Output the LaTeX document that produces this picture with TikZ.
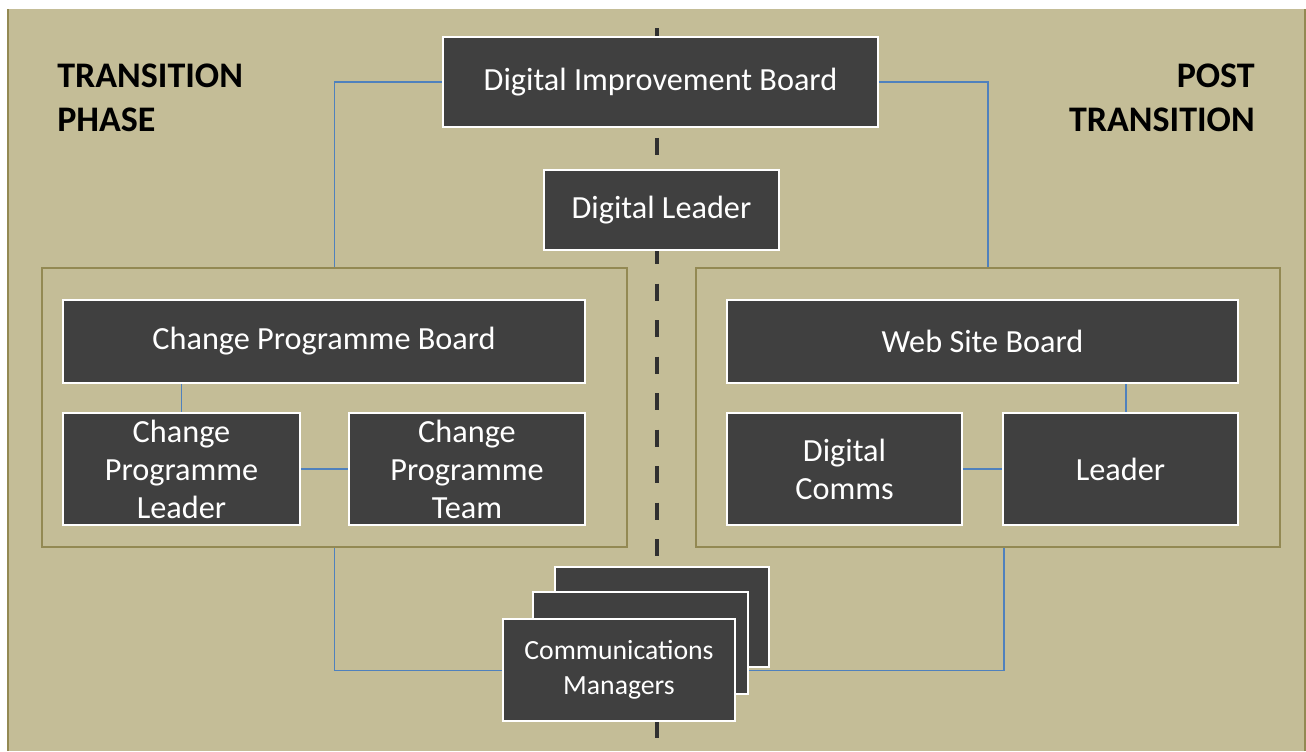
\documentclass[tikz,border=0pt]{standalone}
\usepackage{fontspec}
\setmainfont{Carlito}
\usetikzlibrary{calc}
\definecolor{paper}{HTML}{C4BD97}
\definecolor{olive}{HTML}{938953}
\definecolor{boxgray}{HTML}{404040}
\definecolor{linkblue}{HTML}{4F81BD}
\definecolor{divider}{HTML}{303030}
\begin{document}
\begin{tikzpicture}[x=0.75pt,y=-0.75pt,
  sz/.style 2 args={minimum width=#1*0.75pt, minimum height=#2*0.75pt},
  darkbox/.style={draw=white, line width=2.2pt, fill=boxgray, text=white,
    align=center, inner sep=0pt,
    font=\fontsize{24.2pt}{28.5pt}\selectfont},
  smallbox/.style={darkbox, font=\fontsize{20.8pt}{26pt}\selectfont},
  group/.style={draw=olive, line width=2.2pt, inner sep=0pt},
  link/.style={draw=linkblue, line width=1.1pt},
  phase/.style={font=\fontsize{27pt}{32.3pt}\selectfont\bfseries, inner sep=0pt}]

% canvas
\useasboundingbox (0,0) rectangle (1306,751);
\fill[paper] (7,9) rectangle (1306,751);
\draw[olive, line width=1.6pt] (8,9) -- (8,751);
\draw[olive, line width=1.6pt] (1305,9) -- (1305,751);

% dividing line between the two phases
\draw[divider, line width=3pt, dash pattern=on 12.75pt off 14.6pt, dash phase=12.75pt]
  (656.5,9) -- (656.5,751);

% phase titles (base = baseline of the last line)
\node[phase, anchor=base west, align=left] (tp) at (57,131) {TRANSITION\\PHASE};
\node[phase, anchor=base east, align=right] (pt) at (1255,131) {POST\\TRANSITION};

% groups
\node[group, sz={585}{279}] (lcont) at (334.5,407.5) {};
\node[group, sz={584}{279}] (rcont) at (988,407.5) {};

% top level
\node[darkbox, sz={435}{90}] (dib) at (660.5,82) {Digital Improvement Board};
\node[darkbox, sz={235}{80}] (dl) at (661.5,210) {Digital Leader};

% transition phase
\node[darkbox, sz={522}{83}] (cpb) at (324,341.5) {Change Programme Board};
\node[darkbox, sz={237}{112}] (cpl) at (181.5,469) {Change\\Programme\\Leader};
\node[darkbox, sz={236}{112}] (cpt) at (467,469) {Change\\Programme\\Team};

% post transition
\node[darkbox, sz={511}{83}] (wsb) at (982.5,341.5) {Web Site Board};
\node[darkbox, sz={235}{112}] (dc) at (844.5,469) {Digital\\Comms};
\node[darkbox, sz={235}{112}] (ldr) at (1120.5,469) {Leader};

% connectors
\draw[link] (dib.west) -| (lcont.north);
\draw[link] (dib.east) -| (rcont.north);
\draw[link] (cpl.north) -- (cpl.north |- cpb.south);
\draw[link] (cpl.east) -- (cpt.west);
\draw[link] ([xshift=4.1pt]ldr.north) -- ([xshift=4.1pt]ldr.north |- wsb.south);
\draw[link] (dc.east) -- (ldr.west);
\coordinate (rdrop) at ([xshift=12pt]rcont.south);

% communications managers stack
\node[darkbox, sz={214}{100}] (cm3) at (662,617) {};
\node[darkbox, sz={215}{102}] (cm2) at (640.5,643) {};
\draw[link] (lcont.south) |- (619,670.5) coordinate (cmjoin);
\draw[link] (rdrop) |- (cm2.east |- cmjoin);
\node[smallbox, sz={232}{102}] (cm1) at (619,670) {Communications\\Managers};

\end{tikzpicture}
\end{document}
